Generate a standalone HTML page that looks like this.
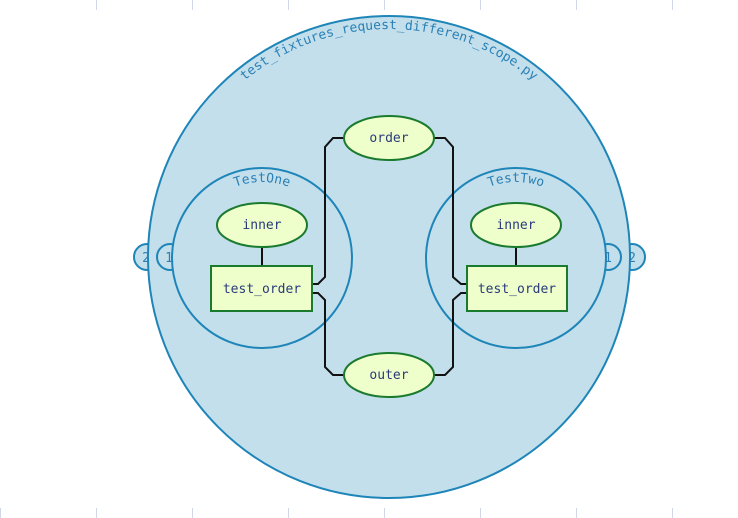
<!DOCTYPE html>
<html><head><meta charset="utf-8"><style>html,body{margin:0;padding:0;background:#fff}svg{display:block}</style></head>
<body>
<svg width="738" height="518" viewBox="0 0 738 518" xmlns="http://www.w3.org/2000/svg" font-family="'DejaVu Sans Mono','Liberation Mono',monospace">
<g stroke="#d0d8e8" stroke-width="1">
<line x1="96.5" y1="0" x2="96.5" y2="10"/><line x1="192.5" y1="0" x2="192.5" y2="10"/><line x1="288.5" y1="0" x2="288.5" y2="10"/><line x1="384.5" y1="0" x2="384.5" y2="10"/><line x1="480.5" y1="0" x2="480.5" y2="10"/><line x1="576.5" y1="0" x2="576.5" y2="10"/><line x1="672.5" y1="0" x2="672.5" y2="10"/>
<line x1="0.5" y1="508" x2="0.5" y2="518"/><line x1="96.5" y1="508" x2="96.5" y2="518"/><line x1="192.5" y1="508" x2="192.5" y2="518"/><line x1="288.5" y1="508" x2="288.5" y2="518"/><line x1="384.5" y1="508" x2="384.5" y2="518"/><line x1="480.5" y1="508" x2="480.5" y2="518"/><line x1="576.5" y1="508" x2="576.5" y2="518"/><line x1="672.5" y1="508" x2="672.5" y2="518"/>
</g>
<g fill="#c3dfec" stroke="#1e85b8" stroke-width="2">
<circle cx="147" cy="257" r="13"/><circle cx="632" cy="257" r="13"/>
<circle cx="389" cy="257" r="241"/>
<circle cx="170" cy="257" r="13"/><circle cx="608" cy="257" r="13"/>
<circle cx="262" cy="258" r="90"/><circle cx="516" cy="258" r="90"/>
</g>
<g fill="#2a80b5" font-size="13" text-anchor="middle">
<text x="146" y="262">2</text><text x="169" y="262">1</text><text x="608" y="262">1</text><text x="632" y="262">2</text>
</g>
<defs>
<path id="arc" d="M 161 257 A 228 228 0 0 1 617 257"/>
<path id="arc1" d="M 186 258 A 76 76 0 0 1 338 258"/>
<path id="arc2" d="M 440 258 A 76 76 0 0 1 592 258"/>
</defs>
<g fill="#2a80b5" font-size="13">
<text><textPath href="#arc" startOffset="50%" text-anchor="middle">test_fixtures_request_different_scope.py</textPath></text>
<text><textPath href="#arc1" startOffset="50%" text-anchor="middle">TestOne</textPath></text>
<text><textPath href="#arc2" startOffset="50%" text-anchor="middle">TestTwo</textPath></text>
</g>
<g fill="none" stroke="#111" stroke-width="2">
<path d="M312 284 H318 L325 277 V147 L333 138 H344"/>
<path d="M312 293 H318 L325 300 V367 L333 375 H344"/>
<path d="M467 284 H461 L453 277 V147 L445 138 H434"/>
<path d="M467 293 H461 L453 300 V367 L445 375 H434"/>
<line x1="262" y1="247" x2="262" y2="266"/><line x1="516" y1="247" x2="516" y2="266"/>
</g>
<g fill="#eeffcc" stroke="#1a7a2e" stroke-width="2">
<ellipse cx="389" cy="138" rx="45" ry="22"/>
<ellipse cx="389" cy="375" rx="45" ry="22"/>
<ellipse cx="262" cy="225" rx="45" ry="22"/>
<ellipse cx="516" cy="225" rx="45" ry="22"/>
<rect x="211" y="266" width="101" height="45"/>
<rect x="467" y="266" width="100" height="45"/>
</g>
<g fill="#2a3a7a" font-size="13" text-anchor="middle">
<text x="389" y="142">order</text><text x="389" y="379">outer</text>
<text x="262" y="229">inner</text><text x="516" y="229">inner</text>
<text x="262" y="293">test_order</text><text x="517" y="293">test_order</text>
</g>
</svg>
</body></html>
